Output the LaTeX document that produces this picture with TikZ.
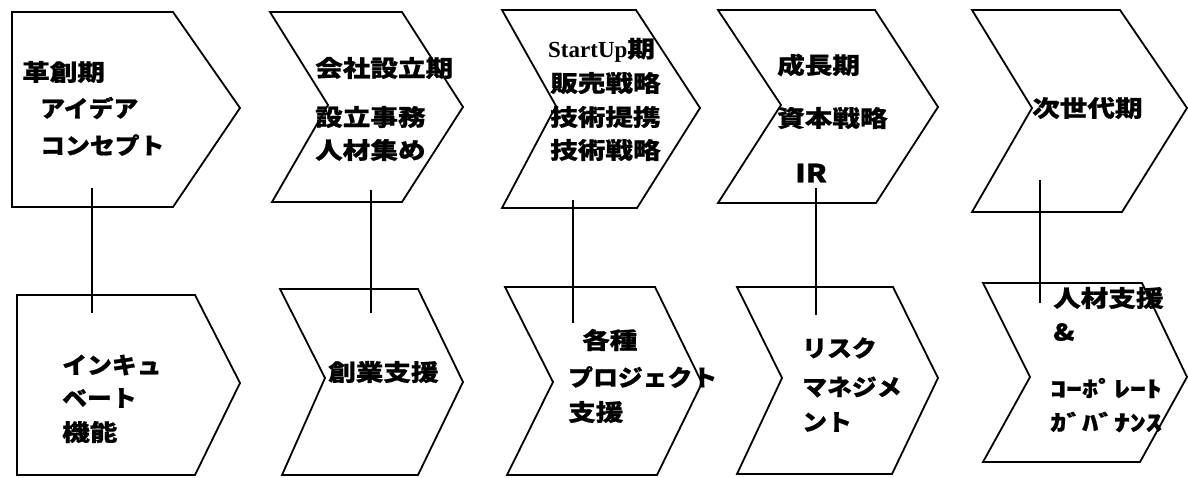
\documentclass[tikz,border=0pt]{standalone}
\usepackage{fontspec}
\newfontfamily\jpfont{Noto Sans CJK JP}[FakeStretch=1.2,BoldFeatures={FakeBold=0.8}]
\newfontfamily\kanafont{Noto Sans CJK JP}[FakeStretch=1.08,BoldFeatures={FakeBold=0.8}]
\newfontfamily\hwfont{Noto Sans CJK JP}[FakeStretch=1.45,BoldFeatures={FakeBold=0.8}]
\newfontfamily\serifb{Liberation Serif}
\begin{document}
\begin{tikzpicture}[x=1pt,y=-1pt,
  shapebox/.style={draw=black,line width=1.8pt,line join=miter},
  conn/.style={draw=black,line width=1.8pt},
  jt/.style={anchor=west,inner sep=0pt,font=\jpfont\bfseries\fontsize{23}{23}\selectfont},
  kt/.style={anchor=west,inner sep=0pt,font=\kanafont\bfseries\fontsize{23}{23}\selectfont},
  hw/.style={anchor=west,inner sep=0pt,font=\hwfont\bfseries\fontsize{22}{22}\selectfont}]
\useasboundingbox (0,0) rectangle (1188,477);
% top row
\draw[shapebox] (12,12) -- (173,12) -- (240,108) -- (173,207) -- (12,207) -- cycle;
\draw[shapebox] (270,12) -- (402,12) -- (463,107) -- (402,202) -- (272,202) -- (328,105) -- cycle;
\draw[shapebox] (502,10) -- (636,10) -- (700,108) -- (637,208) -- (502,208) -- (556,106) -- cycle;
\draw[shapebox] (718,10) -- (875,10) -- (938,107) -- (876,203) -- (718,203) -- (781,105) -- cycle;
\draw[shapebox] (972,10) -- (1120,10) -- (1187,108) -- (1122,212) -- (972,212) -- (1032,108) -- cycle;
% bottom row
\draw[shapebox] (17,295) -- (195,295) -- (240,383) -- (195,475) -- (17,475) -- cycle;
\draw[shapebox] (280,289) -- (418,289) -- (463,382) -- (418,475) -- (282,475) -- (325,378) -- cycle;
\draw[shapebox] (505,287) -- (655,287) -- (702,383) -- (657,475) -- (507,475) -- (553,382) -- cycle;
\draw[shapebox] (737,287) -- (893,287) -- (938,378) -- (892,474) -- (737,474) -- (782,378) -- cycle;
\draw[shapebox] (983,283) -- (1142,283) -- (1187,377) -- (1140,462) -- (983,462) -- (1030,377) -- cycle;
% connectors
\coordinate (c1t) at (92,188);  \coordinate (c1b) at (92,313);
\coordinate (c2t) at (371,190); \coordinate (c2b) at (371,313);
\coordinate (c3t) at (573,200); \coordinate (c3b) at (573,323);
\coordinate (c4t) at (816,188); \coordinate (c4b) at (816,315);
\coordinate (c5t) at (1040,180); \coordinate (c5b) at (1040,303);
\draw[conn] (c1t) -- (c1b);
\draw[conn] (c2t) -- (c2b);
\draw[conn] (c3t) -- (c3b);
\draw[conn] (c4t) -- (c4b);
\draw[conn] (c5t) -- (c5b);
% texts top
\node[jt] (t1a) at (22,72) {革創期};
\node[kt] (t1b) at (40,108) {アイデア};
\node[kt] (t1c) at (40,145) {コンセプト};
\node[jt] (t2a) at (315,68) {会社設立期};
\node[jt] (t2b) at (315,117) {設立事務};
\node[jt] (t2c) at (315,150) {人材集め};
\node[jt] (t3a) at (548,50) {{\serifb\bfseries\fontsize{23}{23}\selectfont StartUp}期};
\node[jt] (t3b) at (550,83) {販売戦略};
\node[jt] (t3c) at (550,117) {技術提携};
\node[jt] (t3d) at (550,150) {技術戦略};
\node[jt] (t4a) at (777,65) {成長期};
\node[jt] (t4b) at (777,118) {資本戦略};
\node[jt,font=\jpfont\bfseries\fontsize{25}{25}\selectfont] (t4c) at (795,173) {IR};
\node[jt] (t5a) at (1032,108) {次世代期};
% texts bottom
\node[kt] (b1a) at (62,365) {インキュ};
\node[kt] (b1b) at (62,398) {ベート};
\node[jt] (b1c) at (62,432) {機能};
\node[jt] (b2a) at (328,372) {創業支援};
\node[jt] (b3a) at (582,340) {各種};
\node[kt] (b3b) at (568,377) {プロジェクト};
\node[jt] (b3c) at (568,412) {支援};
\node[kt] (b4a) at (802,348) {リスク};
\node[kt] (b4b) at (802,387) {マネジメ};
\node[kt] (b4c) at (802,422) {ント};
\node[jt] (b5a) at (1053,298) {人材支援};
\node[jt] (b5b) at (1053,332) {\&};
\node[hw] (b5c) at (1050,388) {ｺｰﾎﾟﾚｰﾄ};
\node[hw] (b5d) at (1050,422) {ｶﾞﾊﾞﾅﾝｽ};
\end{tikzpicture}
\end{document}
